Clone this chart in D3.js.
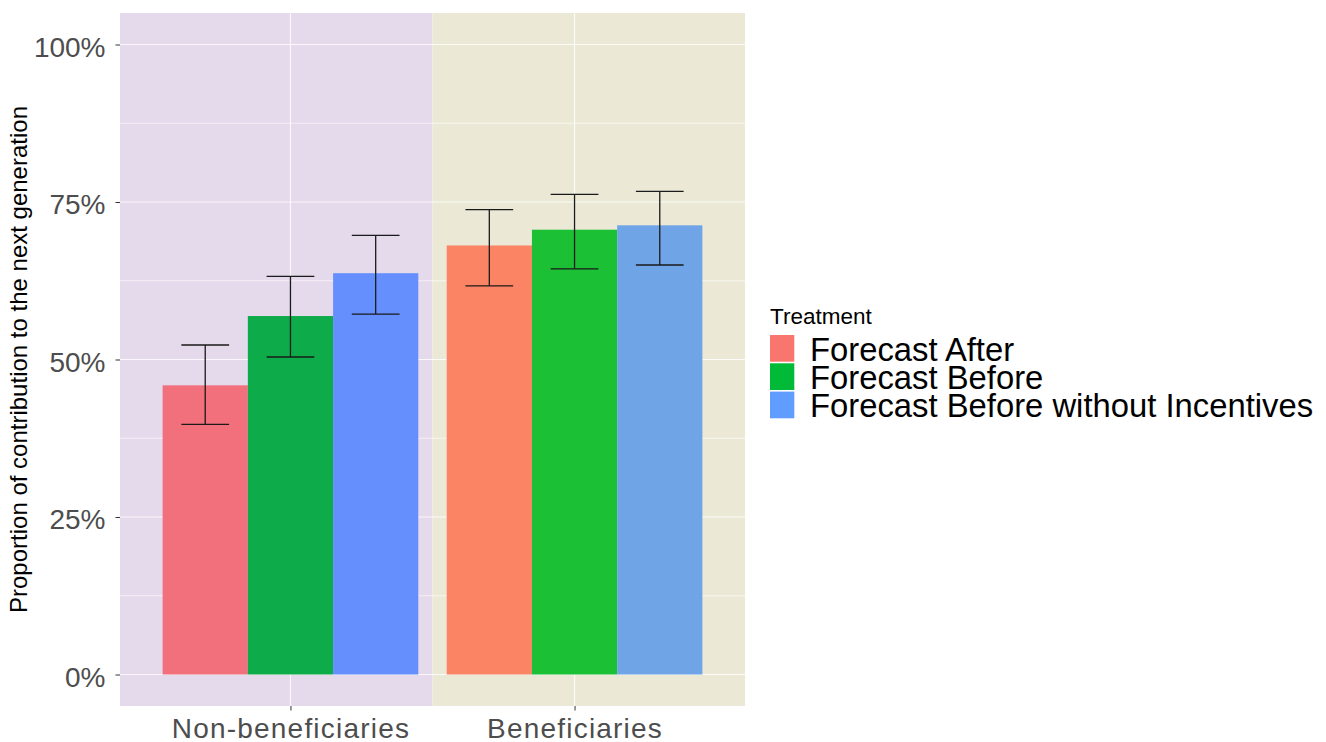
<!DOCTYPE html>
<html>
<head>
<meta charset="utf-8">
<script src="https://cdn.jsdelivr.net/npm/d3@7"></script>
<style>
  body { margin: 0; background: #ffffff; }
  svg { font-family: "Liberation Sans", Arial, sans-serif; }
</style>
</head>
<body>
<script>
// Data.
const groups = ['Non-beneficiaries', 'Beneficiaries'];
const treatments = ['Forecast After', 'Forecast Before', 'Forecast Before without Incentives'];
const meanNon = [0.459, 0.569, 0.637];
const meanBen = [0.681, 0.706, 0.713];
const lowNon = [0.397, 0.504, 0.572];
const highNon = [0.523, 0.632, 0.697];
const lowBen = [0.617, 0.644, 0.650];
const highBen = [0.738, 0.762, 0.767];
const yTicks = [0, 0.25, 0.5, 0.75, 1];
const yMinor = [0.125, 0.375, 0.625, 0.875];

// Colours.
const legendColors = ['#f8766d', '#00ba38', '#619cff'];
const barColors = [['#f2707b', '#0eab4a', '#668ffe'], ['#fb8465', '#1bc035', '#6fa5e6']];
const panelColors = ['#e5d9ec', '#ebe9d6'];

const width = 1326, height = 742;
const svg = d3.select('body').append('svg')
  .attr('width', width)
  .attr('height', height);

// ggplot style continuous positions for a discrete axis.
const x = d3.scaleLinear().domain([0.4, 2.6]).range([120, 745]);
const y = d3.scaleLinear().domain([-0.05, 1.05]).range([706, 13]);

const rows = [];
groups.forEach((g, gi) => {
  const mean = gi === 0 ? meanNon : meanBen;
  const low = gi === 0 ? lowNon : lowBen;
  const high = gi === 0 ? highNon : highBen;
  treatments.forEach((t, ti) => {
    rows.push({group: g, gi: gi, treatment: t, ti: ti, mean: mean[ti], low: low[ti], high: high[ti]});
  });
});

// Panel backgrounds.
svg.selectAll('rect.bg')
  .data(groups)
  .enter()
  .append('rect')
  .attr('class', 'bg')
  .attr('x', (d, i) => x(i === 0 ? 0.4 : 1.5))
  .attr('width', (d, i) => i === 0 ? x(1.5) - x(0.4) : x(2.6) - x(1.5))
  .attr('y', y(1.05))
  .attr('height', y(-0.05) - y(1.05))
  .style('fill', (d, i) => panelColors[i]);

// Grid lines.
const grid = svg.append('g');
grid.selectAll('line.minor')
  .data(yMinor)
  .enter()
  .append('line')
  .attr('x1', x(0.4)).attr('x2', x(2.6))
  .attr('y1', d => y(d)).attr('y2', d => y(d))
  .style('stroke', '#ffffff').style('stroke-opacity', 0.6).style('stroke-width', 1);
grid.selectAll('line.major')
  .data(yTicks)
  .enter()
  .append('line')
  .attr('x1', x(0.4)).attr('x2', x(2.6))
  .attr('y1', d => y(d)).attr('y2', d => y(d))
  .style('stroke', '#ffffff').style('stroke-opacity', 0.8).style('stroke-width', 1.2);
grid.selectAll('line.vert')
  .data(groups)
  .enter()
  .append('line')
  .attr('x1', (d, i) => x(i + 1)).attr('x2', (d, i) => x(i + 1))
  .attr('y1', y(1.05)).attr('y2', y(-0.05))
  .style('stroke', '#ffffff').style('stroke-opacity', 0.8).style('stroke-width', 1.2);

// Bars.
const barW = 0.3;
svg.selectAll('rect.bar')
  .data(rows)
  .enter()
  .append('rect')
  .attr('class', 'bar')
  .attr('x', d => x(d.gi + 1 - 0.45 + d.ti * barW))
  .attr('width', x(barW) - x(0))
  .attr('y', d => y(d.mean))
  .attr('height', d => y(0) - y(d.mean))
  .style('fill', d => barColors[d.gi][d.ti]);

// Error bars.
const capW = 0.168;
const eb = svg.selectAll('g.err')
  .data(rows)
  .enter()
  .append('g')
  .attr('class', 'err')
  .style('stroke', '#1a1a1a')
  .style('stroke-width', 1.3);
const cx = d => x(d.gi + 1 - 0.45 + d.ti * barW + barW / 2);
eb.append('line')
  .attr('x1', cx).attr('x2', cx)
  .attr('y1', d => y(d.high)).attr('y2', d => y(d.low));
eb.append('line')
  .attr('x1', d => cx(d) - (x(capW) - x(0)) / 2).attr('x2', d => cx(d) + (x(capW) - x(0)) / 2)
  .attr('y1', d => y(d.high)).attr('y2', d => y(d.high));
eb.append('line')
  .attr('x1', d => cx(d) - (x(capW) - x(0)) / 2).attr('x2', d => cx(d) + (x(capW) - x(0)) / 2)
  .attr('y1', d => y(d.low)).attr('y2', d => y(d.low));

// Y axis.
const yAxis = d3.axisLeft(y)
  .tickValues(yTicks)
  .tickSize(4.5)
  .tickPadding(10)
  .tickFormat(d3.format('.0%'));
const yg = svg.append('g')
  .attr('transform', 'translate(' + x(0.4) + ',0)')
  .call(yAxis);
yg.select('.domain').remove();
yg.selectAll('.tick line').style('stroke', '#333333').style('stroke-width', 1);
yg.selectAll('.tick text')
  .style('font-size', '28px')
  .style('fill', '#4d4d4d')
  .attr('dy', '0.42em');

// X axis.
const xAxis = d3.axisBottom(x)
  .tickValues([1, 2])
  .tickSize(4.5)
  .tickFormat(d => groups[d - 1]);
const xg = svg.append('g')
  .attr('transform', 'translate(0,' + y(-0.05) + ')')
  .call(xAxis);
xg.select('.domain').remove();
xg.selectAll('.tick line').style('stroke', '#333333').style('stroke-width', 1);
xg.selectAll('.tick text')
  .style('font-size', '28px')
  .style('letter-spacing', '1.2px')
  .style('fill', '#4d4d4d')
  .attr('y', 31.5)
  .attr('dy', 0);

// Y axis title.
svg.append('text')
  .attr('transform', 'translate(27,' + ((y(1.05) + y(-0.05)) / 2) + ') rotate(-90)')
  .attr('text-anchor', 'middle')
  .style('font-size', '24px')
  .style('fill', '#000000')
  .text('Proportion of contribution to the next generation');

// Legend.
const legend = svg.append('g').attr('transform', 'translate(770,0)');
legend.append('text')
  .attr('x', 0)
  .attr('y', 323.5)
  .style('font-size', '22.5px')
  .style('fill', '#000000')
  .text('Treatment');
legend.selectAll('rect')
  .data(treatments)
  .enter()
  .append('rect')
  .attr('x', 0)
  .attr('y', (d, i) => 335 + i * 28.3)
  .attr('width', 24.3)
  .attr('height', 26.7)
  .style('fill', (d, i) => legendColors[i]);
legend.selectAll('text.lab')
  .data(treatments)
  .enter()
  .append('text')
  .attr('class', 'lab')
  .attr('x', 40)
  .attr('y', (d, i) => 360.7 + i * 28.3)
  .style('font-size', '32.8px')
  .style('fill', '#000000')
  .text(d => d);
</script>
</body>
</html>
